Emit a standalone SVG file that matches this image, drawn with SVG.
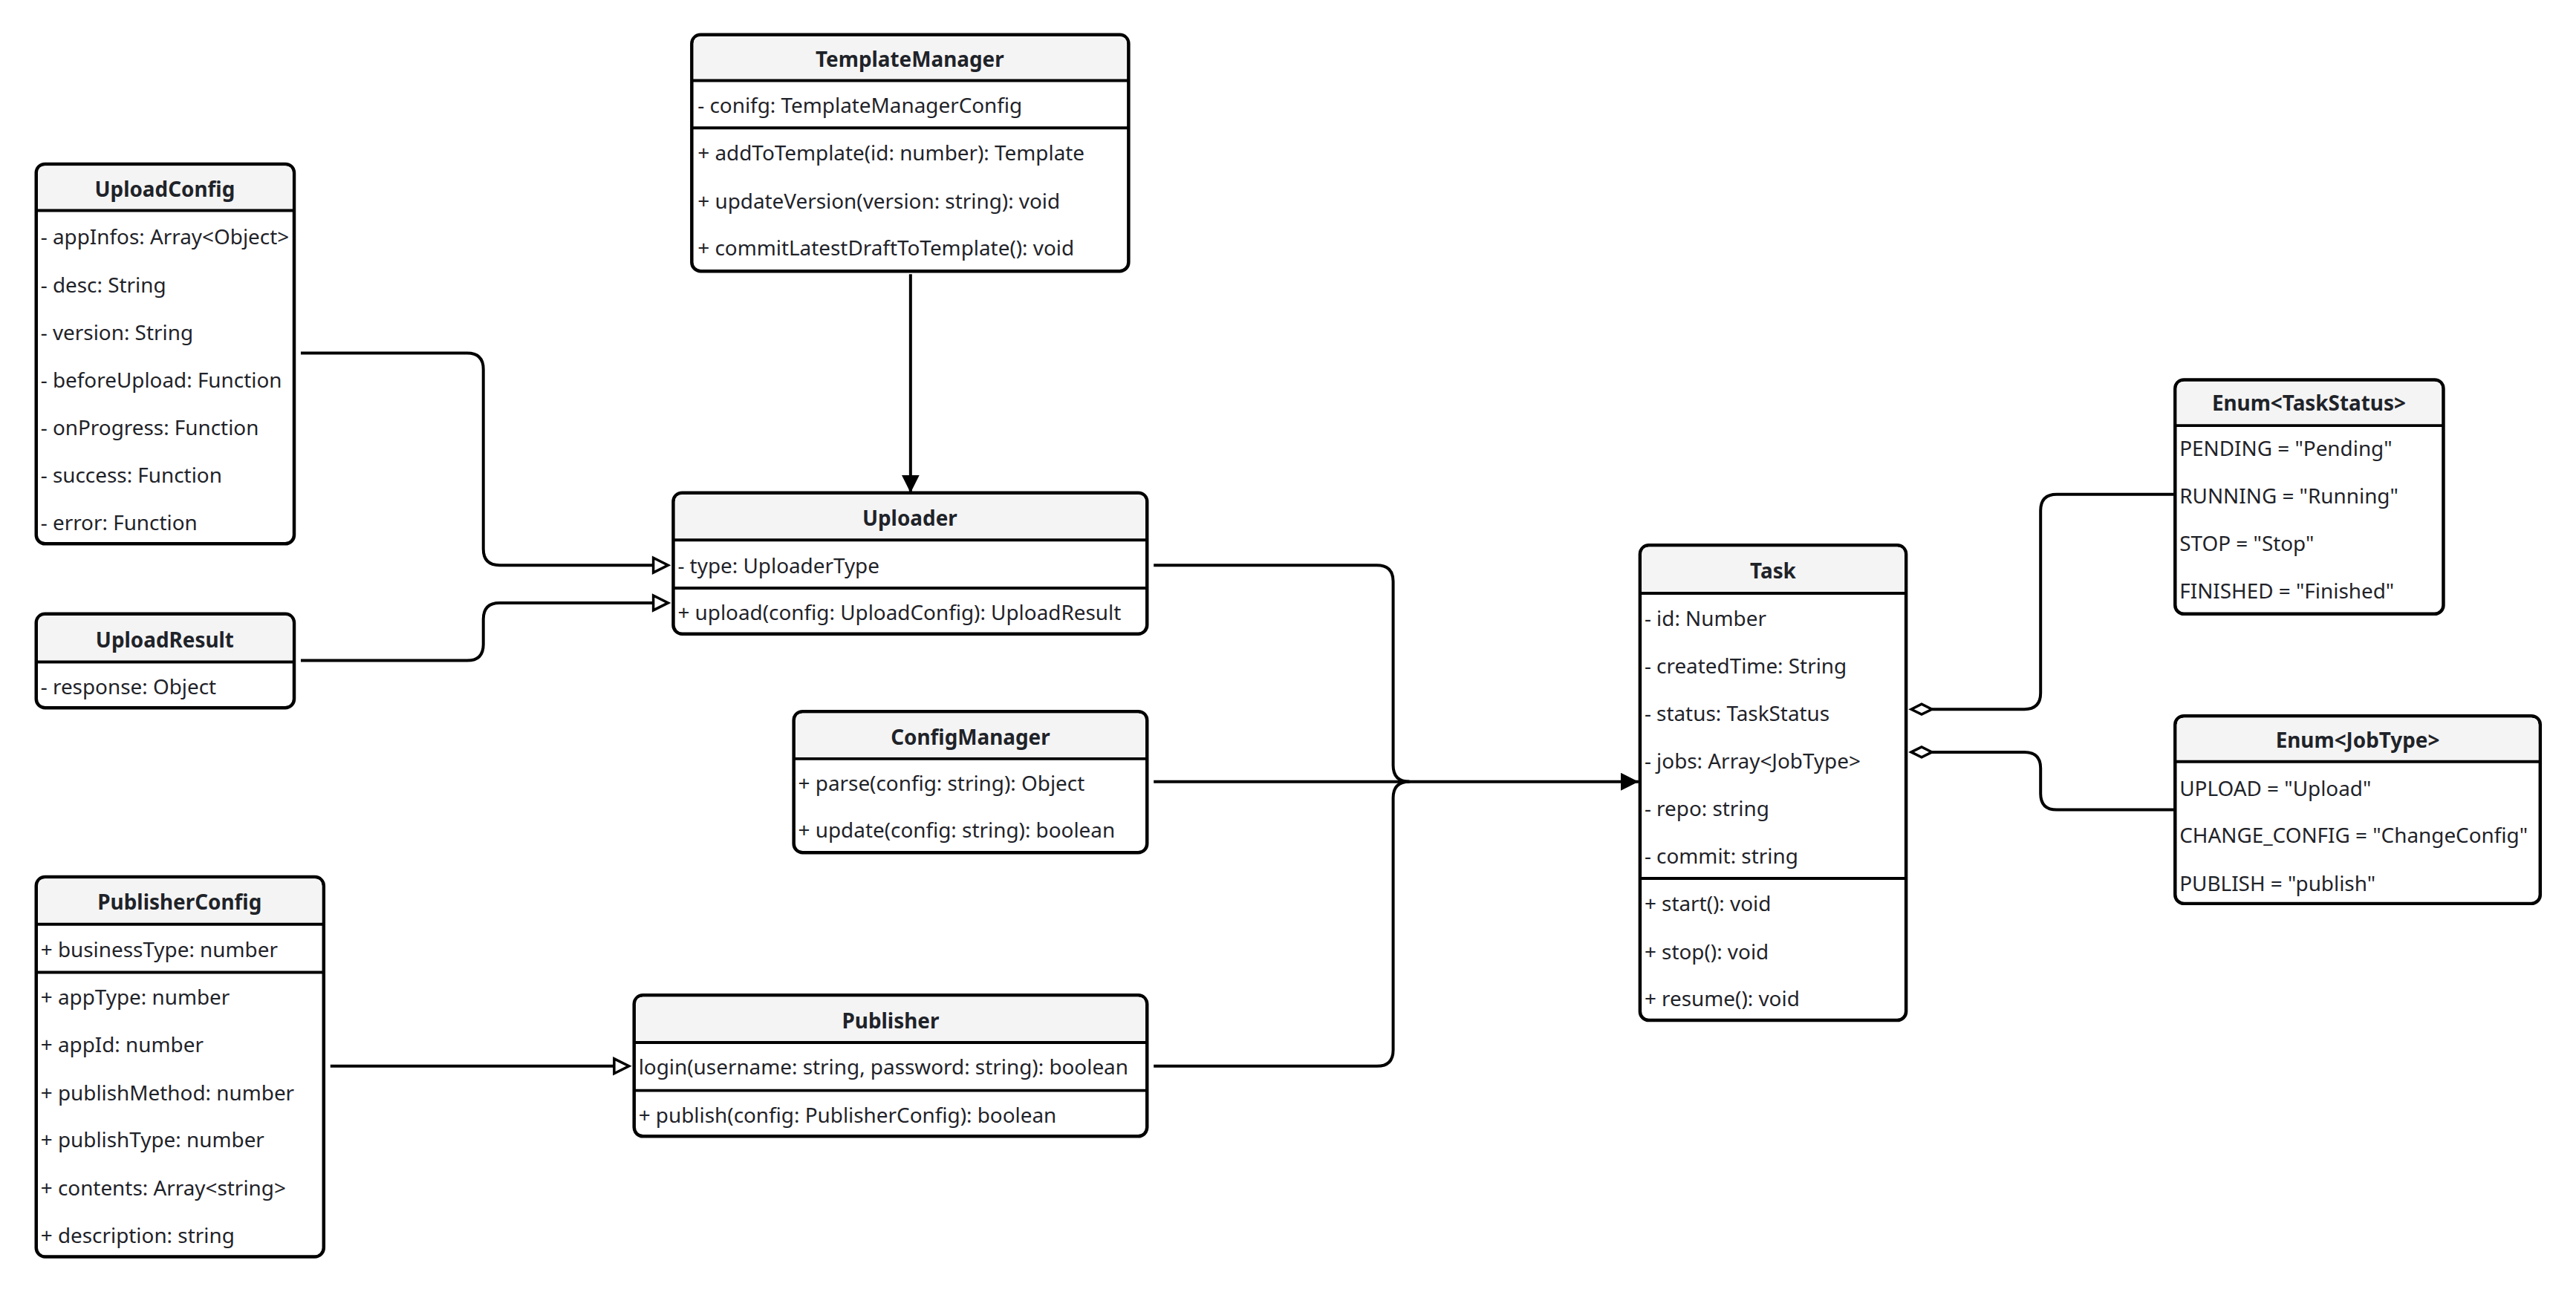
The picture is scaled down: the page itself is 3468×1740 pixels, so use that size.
<svg xmlns="http://www.w3.org/2000/svg" width="3468" height="1740" viewBox="0 0 3468 1740">
<style>
.box{fill:#ffffff;stroke:#000;stroke-width:4.5}
.hd{fill:#f4f4f4}
.sep{stroke:#000;stroke-width:4}
.t{font-family:"Noto Sans","Liberation Sans",sans-serif;font-size:28px;fill:#1f2329}
.b{font-family:"Noto Sans","Liberation Sans",sans-serif;font-size:28px;font-weight:bold;fill:#1f2329;text-anchor:middle}
.c{fill:none;stroke:#000;stroke-width:4}
</style>
<defs>
<marker id="fa" markerUnits="userSpaceOnUse" markerWidth="24" markerHeight="24" refX="24" refY="12" orient="auto"><path d="M0,0 L24,12 L0,24 z" fill="#000"/></marker>
<marker id="ha" markerUnits="userSpaceOnUse" markerWidth="26" markerHeight="26" refX="2" refY="12" orient="auto" overflow="visible"><path d="M2,2 L22,12 L2,22 z" fill="#fff" stroke="#000" stroke-width="3.5"/></marker>
<marker id="dm" markerUnits="userSpaceOnUse" markerWidth="32" markerHeight="18" refX="30" refY="9" orient="auto" overflow="visible"><path d="M2,9 L16,2 L30,9 L16,16 z" fill="#fff" stroke="#000" stroke-width="3.5"/></marker>
</defs>
<g transform="scale(0.995)">
<g id="connectors">
<path class="c" d="M1232 371 V667" marker-end="url(#fa)"/>
<path class="c" d="M407 478 H632 Q654 478 654 500 V743 Q654 765 676 765 H884" marker-end="url(#ha)"/>
<path class="c" d="M407 894 H632 Q654 894 654 872 V838 Q654 816 676 816 H884" marker-end="url(#ha)"/>
<path class="c" d="M1561 765 H1863 Q1885 765 1885 787 V1036 Q1885 1058 1907 1058"/>
<path class="c" d="M1561 1443 H1863 Q1885 1443 1885 1421 V1080 Q1885 1058 1907 1058"/>
<path class="c" d="M1561 1058 H2217" marker-end="url(#fa)"/>
<path class="c" d="M447 1443 H831" marker-end="url(#ha)"/>
<path class="c" d="M2614 960 H2739 Q2761 960 2761 938 V691 Q2761 669 2783 669 H2941" marker-start="url(#dm)"/>
<path class="c" d="M2614 1018 H2739 Q2761 1018 2761 1040 V1074 Q2761 1096 2783 1096 H2941" marker-start="url(#dm)"/>
</g>

<g id="TemplateManager">
<rect class="box" x="936" y="47" width="591" height="320" rx="12"/>
<path class="hd" d="M948 49.5 H1515 Q1524.5 49.5 1524.5 59 V109 H938.5 V59 Q938.5 49.5 948 49.5 z"/>
<line class="sep" x1="936" y1="109" x2="1527" y2="109"/>
<line class="sep" x1="936" y1="173" x2="1527" y2="173"/>
<text class="b" x="1231" y="90">TemplateManager</text>
<text class="t" x="944" y="153">- conifg: TemplateManagerConfig</text>
<text class="t" x="944" y="217">+ addToTemplate(id: number): Template</text>
<text class="t" x="944" y="282">+ updateVersion(version: string): void</text>
<text class="t" x="944" y="346">+ commitLatestDraftToTemplate(): void</text>
</g>

<g id="UploadConfig">
<rect class="box" x="49" y="222" width="349" height="514" rx="12"/>
<path class="hd" d="M61 224.5 H386 Q395.5 224.5 395.5 234 V285 H51.5 V234 Q51.5 224.5 61 224.5 z"/>
<line class="sep" x1="49" y1="285" x2="398" y2="285"/>
<text class="b" x="223" y="266">UploadConfig</text>
<text class="t" x="55" y="331">- appInfos: Array&lt;Object&gt;</text>
<text class="t" x="55" y="396">- desc: String</text>
<text class="t" x="55" y="460">- version: String</text>
<text class="t" x="55" y="525">- beforeUpload: Function</text>
<text class="t" x="55" y="589">- onProgress: Function</text>
<text class="t" x="55" y="653">- success: Function</text>
<text class="t" x="55" y="718">- error: Function</text>
</g>

<g id="UploadResult">
<rect class="box" x="49" y="831" width="349" height="127" rx="12"/>
<path class="hd" d="M61 833.5 H386 Q395.5 833.5 395.5 843 V896 H51.5 V843 Q51.5 833.5 61 833.5 z"/>
<line class="sep" x1="49" y1="896" x2="398" y2="896"/>
<text class="b" x="223" y="876">UploadResult</text>
<text class="t" x="55" y="940">- response: Object</text>
</g>

<g id="Uploader">
<rect class="box" x="911" y="667" width="641" height="191" rx="12"/>
<path class="hd" d="M923 669.5 H1540 Q1549.5 669.5 1549.5 679 V731 H913.5 V679 Q913.5 669.5 923 669.5 z"/>
<line class="sep" x1="911" y1="731" x2="1552" y2="731"/>
<line class="sep" x1="911" y1="796" x2="1552" y2="796"/>
<text class="b" x="1231" y="712">Uploader</text>
<text class="t" x="917" y="776">- type: UploaderType</text>
<text class="t" x="917" y="839">+ upload(config: UploadConfig): UploadResult</text>
</g>

<g id="ConfigManager">
<rect class="box" x="1074" y="963" width="478" height="191" rx="12"/>
<path class="hd" d="M1086 965.5 H1540 Q1549.5 965.5 1549.5 975 V1027 H1076.5 V975 Q1076.5 965.5 1086 965.5 z"/>
<line class="sep" x1="1074" y1="1027" x2="1552" y2="1027"/>
<text class="b" x="1313" y="1008">ConfigManager</text>
<text class="t" x="1080" y="1070">+ parse(config: string): Object</text>
<text class="t" x="1080" y="1134">+ update(config: string): boolean</text>
</g>

<g id="PublisherConfig">
<rect class="box" x="49" y="1187" width="389" height="514" rx="12"/>
<path class="hd" d="M61 1189.5 H426 Q435.5 1189.5 435.5 1199 V1251 H51.5 V1199 Q51.5 1189.5 61 1189.5 z"/>
<line class="sep" x1="49" y1="1251" x2="438" y2="1251"/>
<line class="sep" x1="49" y1="1316" x2="438" y2="1316"/>
<text class="b" x="243" y="1231">PublisherConfig</text>
<text class="t" x="55" y="1295">+ businessType: number</text>
<text class="t" x="55" y="1360">+ appType: number</text>
<text class="t" x="55" y="1424">+ appId: number</text>
<text class="t" x="55" y="1489">+ publishMethod: number</text>
<text class="t" x="55" y="1553">+ publishType: number</text>
<text class="t" x="55" y="1618">+ contents: Array&lt;string&gt;</text>
<text class="t" x="55" y="1682">+ description: string</text>
</g>

<g id="Publisher">
<rect class="box" x="858" y="1347" width="694" height="191" rx="12"/>
<path class="hd" d="M870 1349.5 H1540 Q1549.5 1349.5 1549.5 1359 V1411 H860.5 V1359 Q860.5 1349.5 870 1349.5 z"/>
<line class="sep" x1="858" y1="1411" x2="1552" y2="1411"/>
<line class="sep" x1="858" y1="1476" x2="1552" y2="1476"/>
<text class="b" x="1205" y="1392">Publisher</text>
<text class="t" x="864" y="1454">login(username: string, password: string): boolean</text>
<text class="t" x="864" y="1520">+ publish(config: PublisherConfig): boolean</text>
</g>

<g id="Task">
<rect class="box" x="2219" y="738" width="360" height="643" rx="12"/>
<path class="hd" d="M2231 740.5 H2567 Q2576.5 740.5 2576.5 750 V803 H2221.5 V750 Q2221.5 740.5 2231 740.5 z"/>
<line class="sep" x1="2219" y1="803" x2="2579" y2="803"/>
<line class="sep" x1="2219" y1="1189" x2="2579" y2="1189"/>
<text class="b" x="2399" y="783">Task</text>
<text class="t" x="2225" y="847">- id: Number</text>
<text class="t" x="2225" y="912">- createdTime: String</text>
<text class="t" x="2225" y="976">- status: TaskStatus</text>
<text class="t" x="2225" y="1040">- jobs: Array&lt;JobType&gt;</text>
<text class="t" x="2225" y="1105">- repo: string</text>
<text class="t" x="2225" y="1169">- commit: string</text>
<text class="t" x="2225" y="1233">+ start(): void</text>
<text class="t" x="2225" y="1298">+ stop(): void</text>
<text class="t" x="2225" y="1362">+ resume(): void</text>
</g>

<g id="EnumTaskStatus">
<rect class="box" x="2943" y="514" width="363" height="317" rx="12"/>
<path class="hd" d="M2955 516.5 H3294 Q3303.5 516.5 3303.5 526 V576 H2945.5 V526 Q2945.5 516.5 2955 516.5 z"/>
<line class="sep" x1="2943" y1="576" x2="3306" y2="576"/>
<text class="b" x="3124" y="556">Enum&lt;TaskStatus&gt;</text>
<text class="t" x="2949" y="617">PENDING = "Pending"</text>
<text class="t" x="2949" y="681">RUNNING = "Running"</text>
<text class="t" x="2949" y="746">STOP = "Stop"</text>
<text class="t" x="2949" y="810">FINISHED = "Finished"</text>
</g>

<g id="EnumJobType">
<rect class="box" x="2943" y="969" width="494" height="254" rx="12"/>
<path class="hd" d="M2955 971.5 H3425 Q3434.5 971.5 3434.5 981 V1031 H2945.5 V981 Q2945.5 971.5 2955 971.5 z"/>
<line class="sep" x1="2943" y1="1031" x2="3437" y2="1031"/>
<text class="b" x="3190" y="1012">Enum&lt;JobType&gt;</text>
<text class="t" x="2949" y="1077">UPLOAD = "Upload"</text>
<text class="t" x="2949" y="1141">CHANGE_CONFIG = "ChangeConfig"</text>
<text class="t" x="2949" y="1206">PUBLISH = "publish"</text>
</g>
</g>
</svg>
